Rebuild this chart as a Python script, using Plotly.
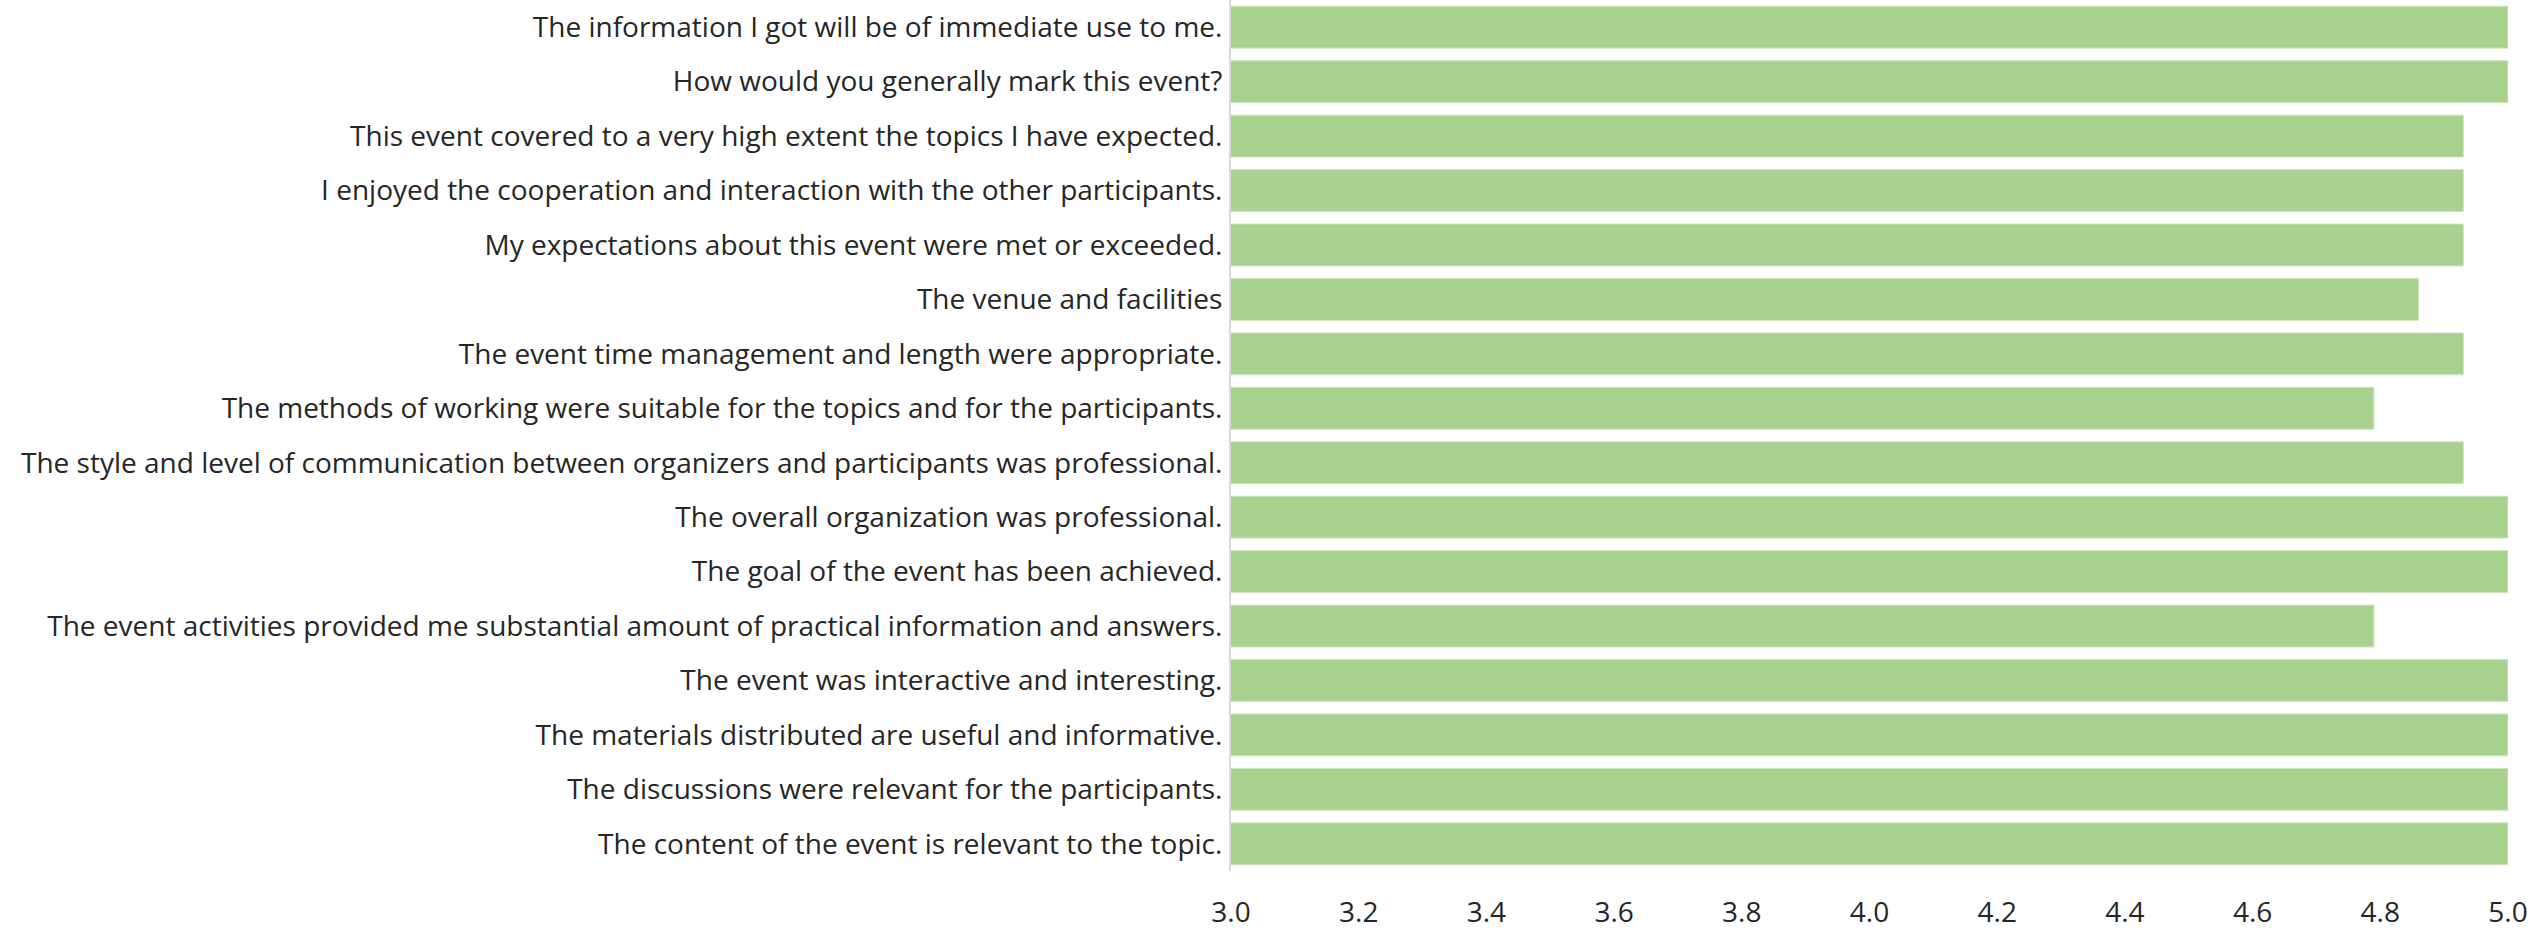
import plotly.graph_objects as go

# ── data (top to bottom as in the chart) ──
QUESTIONS = [
    "The information I got will be of immediate use to me.",
    "How would you generally mark this event?",
    "This event covered to a very high extent the topics I have expected.",
    "I enjoyed the cooperation and interaction with the other participants.",
    "My expectations about this event were met or exceeded.",
    "The venue and facilities",
    "The event time management and length were appropriate.",
    "The methods of working were suitable for the topics and for the participants.",
    "The style and level of communication between organizers and participants was professional.",
    "The overall organization was professional.",
    "The goal of the event has been achieved.",
    "The event activities provided me substantial amount of practical information and answers.",
    "The event was interactive and interesting.",
    "The materials distributed are useful and informative.",
    "The discussions were relevant for the participants.",
    "The content of the event is relevant to the topic.",
]
SCORES = [5.0, 5.0, 4.93, 4.93, 4.93, 4.86, 4.93, 4.79, 4.93, 5.0, 5.0, 4.79, 5.0, 5.0, 5.0, 5.0]
X_TICKS = [3.0, 3.2, 3.4, 3.6, 3.8, 4.0, 4.2, 4.4, 4.6, 4.8, 5.0]

GREEN = "#A9D18E"
TEXT = "#262626"
FONT = "Open Sans, sans-serif"

fig = go.Figure(go.Bar(
    x=SCORES,
    y=QUESTIONS,
    orientation="h",
    marker=dict(color=GREEN, line=dict(color="#CFE5C0", width=1)),
    hoverinfo="x+y",
))

fig.update_layout(
    width=2539, height=935,
    paper_bgcolor="white",
    plot_bgcolor="white",
    font=dict(family=FONT, color=TEXT, size=28),
    margin=dict(l=1231, r=31, t=0, b=64),
    bargap=0.23,
    showlegend=False,
    xaxis=dict(
        range=[3, 5],
        tickvals=X_TICKS,
        ticktext=[f"{v:.1f}" for v in X_TICKS],
        showgrid=False, zeroline=False, showline=False,
        ticks="", ticklabelstandoff=22, automargin=False,
        tickfont=dict(size=28, color=TEXT),
    ),
    yaxis=dict(
        autorange="reversed",
        showgrid=False, zeroline=False,
        showline=True, linecolor="#D9D9D9", linewidth=2,
        ticks="", ticklabelstandoff=1, automargin=False,
        tickfont=dict(size=28, color=TEXT),
    ),
)

# drop the browser's default 8px body margin so the figure fills the window
fig.write_html(
    "out.html",
    config={"displayModeBar": False},
    post_script="document.body.style.margin='0';",
)
